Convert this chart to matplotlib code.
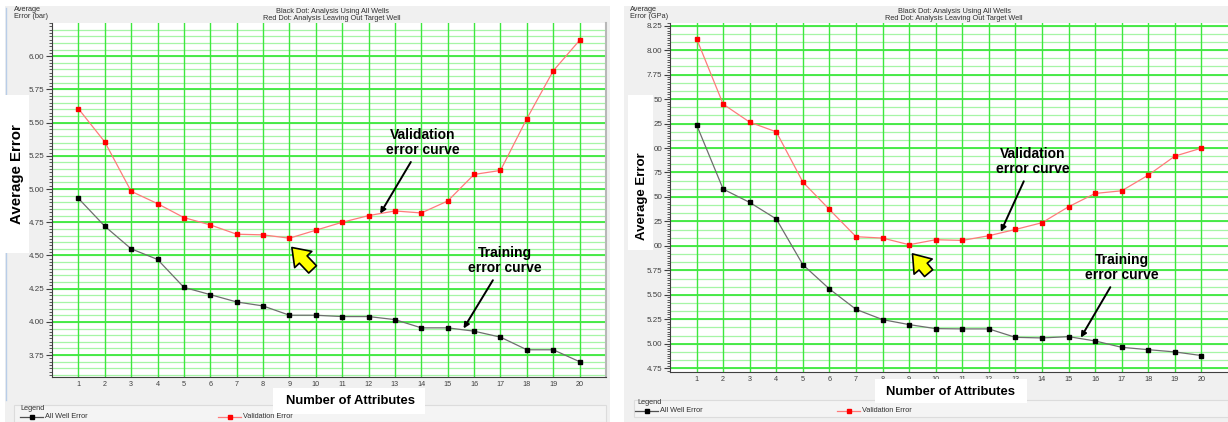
import numpy as np
import matplotlib
matplotlib.use("Agg")
from matplotlib import pyplot as plt
from matplotlib.patches import Rectangle, FancyArrowPatch
from matplotlib.lines import Line2D
from matplotlib.ticker import FixedLocator, MultipleLocator

W, H = 1228, 422

attributes = list(range(1, 21))

# left chart - average error in bar
bar_training = [4.93, 4.72, 4.55, 4.47, 4.26, 4.205, 4.15, 4.12, 4.05, 4.05,
                4.04, 4.04, 4.017, 3.955, 3.955, 3.93, 3.885, 3.79, 3.79, 3.70]
bar_validation = [5.605, 5.355, 4.983, 4.89, 4.785, 4.73, 4.66, 4.655, 4.63, 4.69,
                  4.75, 4.80, 4.835, 4.82, 4.91, 5.11, 5.14, 5.53, 5.89, 6.12]
bar_ticks = [3.75, 4.00, 4.25, 4.50, 4.75, 5.00, 5.25, 5.50, 5.75, 6.00]
bar_ticklabels = ["3.75", "4.00", "4.25", "4.50", "4.75", "5.00", "5.25", "5.50", "5.75", "6.00"]

# right chart - average error in GPa
gpa_training = [7.237, 6.58, 6.444, 6.275, 5.808, 5.56, 5.352, 5.247, 5.196, 5.155,
                5.152, 5.152, 5.066, 5.06, 5.073, 5.029, 4.964, 4.94, 4.917, 4.88]
gpa_validation = [8.117, 7.448, 7.264, 7.165, 6.652, 6.372, 6.094, 6.08, 6.012, 6.063,
                  6.056, 6.104, 6.168, 6.237, 6.40, 6.536, 6.563, 6.723, 6.917, 6.999]
gpa_ticks = [4.75, 5.00, 5.25, 5.50, 5.75, 6.00, 6.25, 6.50, 6.75, 7.00, 7.25, 7.50, 7.75, 8.00, 8.25]
# the y label box hides the front of some labels in the original
gpa_ticklabels = ["4.75", "5.00", "5.25", "5.50", "5.75", "00", "25", "50", "75", "00", "25", "50",
                  "7.75", "8.00", "8.25"]

header = "Black Dot: Analysis Using All Wells\nRed Dot: Analysis Leaving Out Target Well"

SMALL = "Liberation Sans"
BOLD = dict(family="Liberation Sans", weight="bold")

fig = plt.figure(figsize=(W / 100, H / 100), dpi=100)
fig.patch.set_facecolor("white")


def box(x, y, w, h, z=-1, **kw):
    # rectangle in figure pixels, y measured from top
    r = Rectangle((x / W, 1 - (y + h) / H), w / W, h / H, transform=fig.transFigure,
                  zorder=z, **kw)
    fig.add_artist(r)
    return r


def ftext(x, y, s, **kw):
    return fig.text(x / W, 1 - y / H, s, zorder=4, **kw)


def make_axes(x0, y0, x1, y1):
    return fig.add_axes([x0 / W, 1 - y1 / H, (x1 - x0) / W, (y1 - y0) / H])


def draw_panel(ax, training, validation, ticks, ticklabels, ylim, minor_step, xpad):
    ax.set_facecolor("white")
    ax.set_xlim(0, 21)
    ax.set_ylim(*ylim)
    # green grid
    for y in np.arange(ticks[0] - 5 * minor_step, ylim[1], minor_step):
        ax.axhline(y, color="#a6f5a6", lw=0.9, zorder=1)
    for y in ticks:
        ax.axhline(y, color="#3ee83e", lw=1.3, zorder=1)
    for x in attributes:
        ax.axvline(x, color="#3ee83e", lw=1.0, zorder=1)
    ax.plot(attributes, training, color="#6e6e6e", lw=0.9, marker="s", ms=3.3,
            mfc="black", mec="black", zorder=3)
    ax.plot(attributes, validation, color="#ff7a7a", lw=0.9, marker="s", ms=3.3,
            mfc="#ff0000", mec="#ff0000", zorder=3)
    ax.set_xticks(attributes)
    ax.set_xticklabels([str(a) for a in attributes], fontsize=5.2, family=SMALL, color="#404040")
    ax.yaxis.set_major_locator(FixedLocator(ticks))
    ax.set_yticklabels(ticklabels, fontsize=5.8, family=SMALL, color="#404040")
    ax.yaxis.set_minor_locator(MultipleLocator(0.025))
    ax.tick_params(axis="x", length=0, pad=xpad)
    ax.tick_params(axis="y", which="major", length=4, width=0.8, color="#404040", pad=1.5)
    ax.tick_params(axis="y", which="minor", length=2, width=0.6, color="#404040")
    for s in ["top", "right"]:
        ax.spines[s].set_visible(False)
    ax.spines["left"].set_color("#404040")
    ax.spines["bottom"].set_color("#404040")


# panel backgrounds
box(5, 6, 605, 416, facecolor="#f0f0f0", edgecolor="none", z=-2)
box(624, 6, 604, 416, facecolor="#f0f0f0", edgecolor="none", z=-2)
fig.add_artist(Line2D([6 / W, 6 / W], [1 - 8 / H, 1 - 95 / H], transform=fig.transFigure,
                      color="#b8cde8", lw=1, zorder=-1))
fig.add_artist(Line2D([6 / W, 6 / W], [1 - 253 / H, 1 - 400 / H], transform=fig.transFigure,
                      color="#b8cde8", lw=1, zorder=-1))

# ---- left chart
axL = make_axes(52, 23, 606, 377)
draw_panel(axL, bar_training, bar_validation, bar_ticks, bar_ticklabels, (3.585, 6.25), 0.05, 3)
axL.spines["right"].set_visible(True)
axL.spines["right"].set_color("#b8b8b8")
axL.spines["right"].set_linewidth(1.5)

axL.annotate("Validation\nerror curve", xy=(12.44, 4.815), xytext=(14.04, 5.35),
             ha="center", va="center", fontsize=10, linespacing=1.05, **BOLD,
             arrowprops=dict(arrowstyle="-|>", color="black", lw=1.4, shrinkA=2, shrinkB=0,
                             mutation_scale=8), zorder=5)
axL.annotate("Training\nerror curve", xy=(15.6, 3.95), xytext=(17.16, 4.46),
             ha="center", va="center", fontsize=10, linespacing=1.05, **BOLD,
             arrowprops=dict(arrowstyle="-|>", color="black", lw=1.4, shrinkA=2, shrinkB=0,
                             mutation_scale=8), zorder=5)
axL.add_patch(FancyArrowPatch((9.95, 4.38), (9.02, 4.575),
                              arrowstyle="simple,head_length=0.7,head_width=1.0,tail_width=0.45",
                              mutation_scale=17, fc="#ffff00", ec="black", lw=1.2, zorder=6))

box(0, 95, 29, 158, facecolor="white", edgecolor="none", z=2)
ftext(17, 174, "Average Error", rotation=90, ha="center", va="center", fontsize=10.8, **BOLD)
box(273, 388, 152, 26, facecolor="white", edgecolor="none", z=2)
ftext(350, 401, "Number of Attributes", ha="center", va="center", fontsize=9.4, **BOLD)

ftext(14, 13, "Average\nError (bar)", ha="left", va="center", fontsize=5.3, family=SMALL,
      color="#303030", linespacing=1.1)
ftext(332, 15, header, ha="center", va="center", fontsize=5.3, family=SMALL, color="#303030",
      linespacing=1.1)

# legend
box(14, 405, 592, 17, facecolor="#f4f4f4", edgecolor="#dcdcdc", lw=0.8, z=-1)
ftext(20, 409, "Legend", ha="left", va="center", fontsize=5.3, family=SMALL, color="#303030")


def legend_entry(x, y, color, line_color, label):
    fig.add_artist(Line2D([x / W, (x + 23) / W], [1 - y / H, 1 - y / H], transform=fig.transFigure,
                          color=line_color, lw=0.9, zorder=3))
    fig.add_artist(Line2D([(x + 11.5) / W], [1 - y / H], transform=fig.transFigure, marker="s",
                          ms=3.3, color=color, lw=0, zorder=3))
    ftext(x + 25, y, label, ha="left", va="center", fontsize=5.3, family=SMALL, color="#303030")


legend_entry(20, 417, "black", "#505050", "All Well Error")
legend_entry(218, 417, "#ff0000", "#ff7a7a", "Validation Error")

# ---- right chart
axR = make_axes(670, 22.7, 1228, 371.7)
draw_panel(axR, gpa_training, gpa_validation, gpa_ticks, gpa_ticklabels, (4.715, 8.28), 0.25 / 3, 3)

axR.annotate("Validation\nerror curve", xy=(12.45, 6.145), xytext=(13.65, 6.86),
             ha="center", va="center", fontsize=10, linespacing=1.05, **BOLD,
             arrowprops=dict(arrowstyle="-|>", color="black", lw=1.4, shrinkA=2, shrinkB=0,
                             mutation_scale=8), zorder=5)
axR.annotate("Training\nerror curve", xy=(15.46, 5.063), xytext=(17.0, 5.777),
             ha="center", va="center", fontsize=10, linespacing=1.05, **BOLD,
             arrowprops=dict(arrowstyle="-|>", color="black", lw=1.4, shrinkA=2, shrinkB=0,
                             mutation_scale=8), zorder=5)
axR.add_patch(FancyArrowPatch((9.8, 5.70), (9.06, 5.94),
                              arrowstyle="simple,head_length=0.7,head_width=1.0,tail_width=0.45",
                              mutation_scale=17, fc="#ffff00", ec="black", lw=1.2, zorder=6))

box(628, 95, 25, 155, facecolor="white", edgecolor="none", z=2)
ftext(642, 196, "Average Error", rotation=90, ha="center", va="center", fontsize=9.5, **BOLD)
box(875, 379, 152, 24, facecolor="white", edgecolor="none", z=2)
ftext(951, 392, "Number of Attributes", ha="center", va="center", fontsize=9.4, **BOLD)

ftext(630, 13, "Average\nError (GPa)", ha="left", va="center", fontsize=5.3, family=SMALL,
      color="#303030", linespacing=1.1)
ftext(954, 15, header, ha="center", va="center", fontsize=5.3, family=SMALL, color="#303030",
      linespacing=1.1)

box(634, 400, 594, 17, facecolor="#f4f4f4", edgecolor="#dcdcdc", lw=0.8, z=-1)
ftext(637, 403, "Legend", ha="left", va="center", fontsize=5.3, family=SMALL, color="#303030")
legend_entry(635, 411, "black", "#505050", "All Well Error")
legend_entry(837, 411, "#ff0000", "#ff7a7a", "Validation Error")

fig.savefig("out.png", dpi=100)
